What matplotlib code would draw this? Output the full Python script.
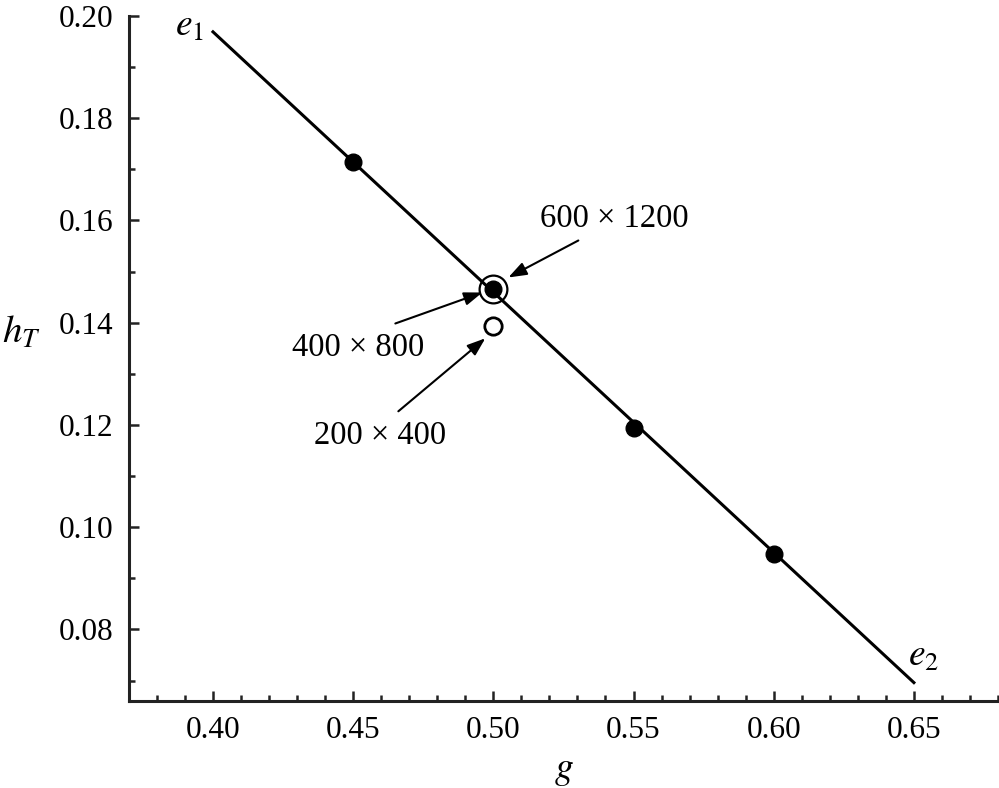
import matplotlib
matplotlib.use("Agg")
import matplotlib.pyplot as plt
from matplotlib.ticker import MultipleLocator, FormatStrFormatter
from matplotlib.transforms import offset_copy

# line e1 -> e2
line_g = [0.40, 0.65]
line_h = [0.1969, 0.0696]

# converged grid points (filled)
grid_g = [0.45, 0.50, 0.55, 0.60]
grid_h = [0.1715, 0.1465, 0.1195, 0.0947]

# resolution study at g = 0.50
coarse_g, coarse_h = 0.50, 0.1393   # 200 x 400 (open)
fine_g, fine_h = 0.50, 0.1465       # 600 x 1200 (ring)

plt.rcParams['font.family'] = ['Liberation Serif', 'DejaVu Serif']
plt.rcParams['mathtext.fontset'] = 'stix'

fig = plt.figure(figsize=(9.99, 7.88), dpi=100)
ax = fig.add_axes([0.129, 0.1104, 0.870, 0.8693])

ax.plot(line_g, line_h, color='black', lw=2.2, zorder=2)
ax.plot(grid_g, grid_h, 'o', color='black', ms=12, zorder=3)
ax.plot([coarse_g], [coarse_h], 'o', mfc='white', mec='black', mew=2, ms=12.5, zorder=3)
ax.plot([fine_g], [fine_h], 'o', mfc='none', mec='black', mew=1.6, ms=20, zorder=3)

ax.set_xlim(0.37, 0.68)
ax.set_ylim(0.066, 0.20)

for s in ['top', 'right']:
    ax.spines[s].set_visible(False)
for s in ['left', 'bottom']:
    ax.spines[s].set_linewidth(2.2)
    ax.spines[s].set_color('#222222')

ax.xaxis.set_major_locator(MultipleLocator(0.05))
ax.xaxis.set_minor_locator(MultipleLocator(0.01))
ax.yaxis.set_major_locator(MultipleLocator(0.02))
ax.yaxis.set_minor_locator(MultipleLocator(0.01))
ax.xaxis.set_major_formatter(FormatStrFormatter('%.2f'))
ax.yaxis.set_major_formatter(FormatStrFormatter('%.2f'))
ax.tick_params(which='both', direction='in', width=1.8, color='#222222',
               labelsize=22.5, pad=11)
ax.tick_params(which='major', length=7)
ax.tick_params(which='minor', length=4)

ax.set_xlabel('$g$', fontsize=27, labelpad=6)
ax.set_ylabel('$h_T$', fontsize=28, rotation=0, labelpad=0)
ax.yaxis.set_label_coords(-0.124, 0.51)

ax.text(0.3918, 0.198, '$e_1$', fontsize=27, ha='center', va='center')
ax.text(0.6536, 0.0747, '$e_2$', fontsize=27, ha='center', va='center')


def px(dx, dy):
    return offset_copy(ax.transData, fig=fig, x=dx, y=dy, units='dots')


arrow = dict(arrowstyle='-|>,head_length=0.55,head_width=0.2',
             color='black', lw=1.5, shrinkA=0, shrinkB=0, mutation_scale=20)

# (label, x, y, head offset, tail offset, text offset) in pixels
notes = [
    ('600 × 1200', fine_g, fine_h, (15, 12), (85, 49), (121, 71)),
    ('400 × 800', fine_g, fine_h, (-11, -3), (-98, -34), (-135, -58)),
    ('200 × 400', coarse_g, coarse_h, (-8, -12), (-95, -85), (-113, -109)),
]
for label, x, y, head, tail, txt in notes:
    ax.annotate('', xy=(x, y), xycoords=px(*head),
                xytext=(x, y), textcoords=px(*tail), arrowprops=arrow)
    ax.text(x, y, label, transform=px(*txt), fontsize=23.5,
            ha='center', va='center')

fig.savefig('out.png', dpi=100)
